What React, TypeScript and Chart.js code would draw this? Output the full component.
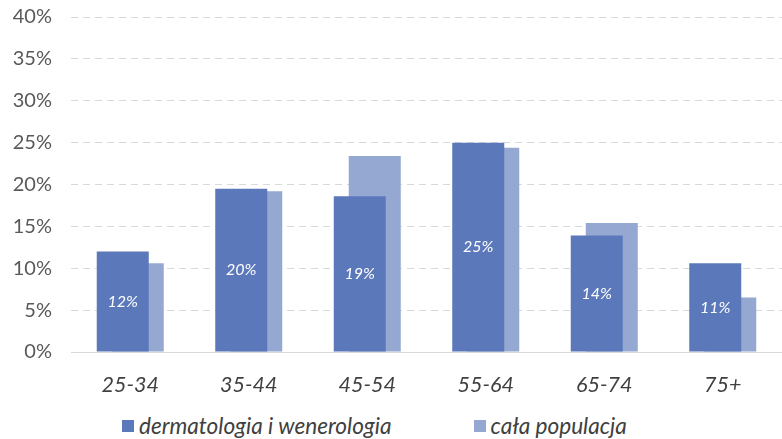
import React, { useEffect, useRef } from "react";
import { Chart, registerables } from "chart.js";

Chart.register(...registerables);

const categories = ["25-34", "35-44", "45-54", "55-64", "65-74", "75+"];
const dermatologia = [12.0, 19.5, 18.6, 25.0, 13.9, 10.6];
const populacja = [10.6, 19.2, 23.4, 24.4, 15.4, 6.5];
const seriesNames = ["dermatologia i wenerologia", "cała populacja"];
const seriesColors = ["#5B78BA", "#94A8D2"];
const yMin = 0;
const yMax = 40;
const yStep = 5;

const barLabelPlugin = {
  id: "barLabels",
  afterDatasetsDraw(chart: any) {
    const meta = chart.getDatasetMeta(0);
    const ctx = chart.ctx;
    ctx.save();
    ctx.font = "italic 16px Lato";
    ctx.fillStyle = "#ffffff";
    ctx.textAlign = "center";
    ctx.textBaseline = "middle";
    meta.data.forEach((el: any, i: number) => {
      const p = el.getProps(["x", "y", "base"], true);
      ctx.fillText(Math.round(dermatologia[i]) + "%", p.x, (p.y + p.base) / 2);
    });
    ctx.restore();
  },
};

export default function App() {
  const canvasRef = useRef<HTMLCanvasElement | null>(null);

  useEffect(() => {
    if (!canvasRef.current) return;
    const chart = new Chart(canvasRef.current, {
      type: "bar",
      data: {
        labels: categories,
        datasets: [
          {
            label: seriesNames[0],
            data: dermatologia,
            backgroundColor: seriesColors[0],
            categoryPercentage: 0.2532,
            barPercentage: 3.467,
          },
          {
            label: seriesNames[1],
            data: populacja,
            backgroundColor: seriesColors[1],
            categoryPercentage: 0.2532,
            barPercentage: 3.467,
          },
        ],
      },
      options: {
        animation: false,
        responsive: true,
        maintainAspectRatio: false,
        layout: { padding: { top: 17, right: 0, bottom: 0, left: 0 } },
        plugins: {
          legend: { display: false },
          tooltip: { enabled: false },
        },
        scales: {
          x: {
            grid: { display: false, drawTicks: false },
            border: { display: true, color: "#D9D9D9", width: 1 },
            ticks: {
              font: { family: "Lato", size: 21.5, style: "italic" },
              color: "#404040",
              padding: 20,
            },
            afterFit(scale: any) {
              scale.height = 48;
              scale.paddingLeft = 0;
              scale.paddingRight = 0;
            },
          },
          y: {
            min: yMin,
            max: yMax,
            grid: { color: "#D9D9D9", lineWidth: 1, drawTicks: false },
            border: { display: false, dash: [7, 5] },
            ticks: {
              stepSize: yStep,
              font: { family: "Lato", size: 20 },
              color: "#595959",
              padding: 19,
              callback: (v: any) => v + "%",
            },
            afterFit(scale: any) {
              scale.width = 71;
              scale.paddingTop = 0;
              scale.paddingBottom = 0;
            },
          },
        },
      },
      plugins: [barLabelPlugin],
    });
    return () => chart.destroy();
  }, []);

  return (
    <div
      style={{
        position: "fixed",
        left: 0,
        top: 0,
        width: 782,
        height: 439,
        background: "#ffffff",
        overflow: "hidden",
      }}
    >
      <div style={{ position: "absolute", left: 0, top: 0, width: 782, height: 400 }}>
        <canvas ref={canvasRef} />
      </div>
      <div
        style={{
          position: "absolute",
          left: 122,
          top: 412,
          display: "flex",
          alignItems: "center",
          gap: 82,
          fontFamily: "Lato",
          fontStyle: "italic",
          fontSize: 22.6,
          color: "#404040",
          lineHeight: "28px",
          whiteSpace: "nowrap",
        }}
      >
        {seriesNames.map((name, i) => (
          <div key={name} style={{ display: "flex", alignItems: "center" }}>
            <span
              style={{
                display: "inline-block",
                width: 12,
                height: 12,
                background: seriesColors[i],
                marginRight: 5,
              }}
            />
            <span>{name}</span>
          </div>
        ))}
      </div>
    </div>
  );
}
